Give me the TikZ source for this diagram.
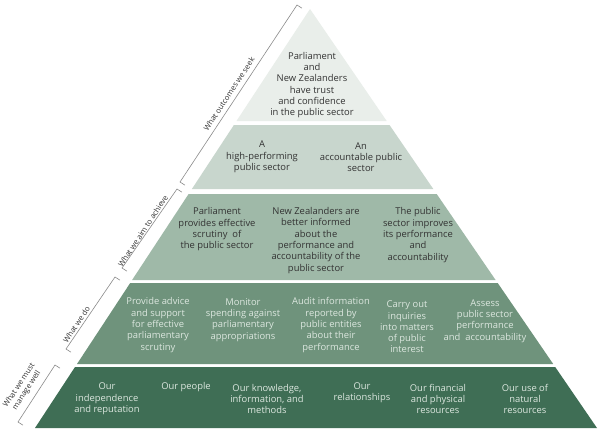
\documentclass[tikz,border=0pt]{standalone}
\usepackage{fontspec}
\setmainfont{Open Sans}
\definecolor{tone}{HTML}{E9EEEA}
\definecolor{ttwo}{HTML}{C8D6CD}
\definecolor{tthree}{HTML}{9FB9A8}
\definecolor{tfour}{HTML}{6F937C}
\definecolor{tfive}{HTML}{3F6E55}
\definecolor{txdark}{HTML}{333333}
\definecolor{txlight}{HTML}{DCE7DF}
\definecolor{brc}{HTML}{8A8A8A}
\definecolor{labc}{HTML}{333333}
\begin{document}
\begin{tikzpicture}[x=1pt,y=-1pt,
  tx/.style={align=center, font=\fontsize{9.4}{11.3}\selectfont, text=txdark, inner sep=0pt},
  txl/.style={tx, text=txlight},
  lab/.style={font=\fontsize{7.6}{9}\selectfont, text=labc, rotate=56.7, align=center, inner sep=0pt},
  brk/.style={draw=brc, line width=0.6pt}]
\useasboundingbox[fill=white] (0,0) rectangle (600,434);
% tiers
\fill[tone]   (310,9) -- (386.7,121) -- (236.5,121) -- cycle;
\fill[ttwo]   (233.9,125) -- (389.5,125) -- (433.3,189) -- (191.9,189) -- cycle;
\fill[tthree] (188.6,194) -- (436.7,194) -- (495.6,280) -- (132.1,280) -- cycle;
\fill[tfour]  (130.2,283) -- (497.7,283) -- (553.2,364) -- (77,364) -- cycle;
\fill[tfive]  (75,367) -- (555.2,367) -- (597,428) -- (35,428) -- cycle;
% brackets
\coordinate (b1a) at (297,5);   \coordinate (b1b) at (180,182);
\coordinate (b2a) at (177,189); \coordinate (b2b) at (122,268);
\coordinate (b3a) at (115,277); \coordinate (b3b) at (66,349);
\coordinate (b4a) at (55,365);  \coordinate (b4b) at (18,422);
\foreach \a/\b in {b1a/b1b,b2a/b2b,b3a/b3b,b4a/b4b}{
  \draw[brk] ([shift={(5,3.2)}]\a) -- (\a) -- (\b) -- ([shift={(5,3.2)}]\b);
}
% side labels
\node[lab] (l1) at (229,94) {What outcomes we seek};
\node[lab] (l2) at (143,231) {What we aim to achieve};
\node[lab] (l3) at (76.5,324.5) {What we do};
\node[lab] (l4) at (23,388) {What we must\\manage well};
% tier 1
\node[tx] (a1) at (312,85) {Parliament\\and\\New Zealanders\\have trust\\and confidence\\in the public sector};
% tier 2
\node[tx] (b1) at (262,157) {A\\high-performing\\public sector};
\node[tx] (b2) at (361,157) {An\\accountable public\\sector};
% tier 3
\node[tx] (c1) at (217,229.5) {Parliament\\provides effective\\scrutiny\ \ of\\the public sector};
\node[tx] (c2) at (316,240.5) {New Zealanders are\\better informed\\about the\\performance and\\accountability of the\\public sector};
\node[tx] (c3) at (418,235) {The public\\sector improves\\its performance\\and\\accountability};
% tier 4
\node[txl] (d1) at (158,325) {Provide advice\\and support\\for effective\\parliamentary\\scrutiny};
\node[txl] (d2) at (243,320) {Monitor\\spending against\\parliamentary\\appropriations};
\node[txl] (d3) at (331,325) {Audit information\\reported by\\public entities\\about their\\performance};
\node[txl] (d4) at (407,327) {Carry out\\inquiries\\into matters\\of public\\interest};
\node[txl] (d5) at (485,321) {Assess\\public sector\\performance\\and\ \ accountability};
% tier 5
\node[txl] (e1) at (107,399) {Our\\independence\\and reputation};
\node[txl] (e2) at (186,387) {Our people};
\node[txl] (e3) at (267,399) {Our knowledge,\\information, and\\methods};
\node[txl] (e4) at (362,393) {Our\\relationships};
\node[txl] (e5) at (438,399) {Our financial\\and physical\\resources};
\node[txl] (e6) at (525,399) {Our use of\\natural\\resources};
\end{tikzpicture}
\end{document}
